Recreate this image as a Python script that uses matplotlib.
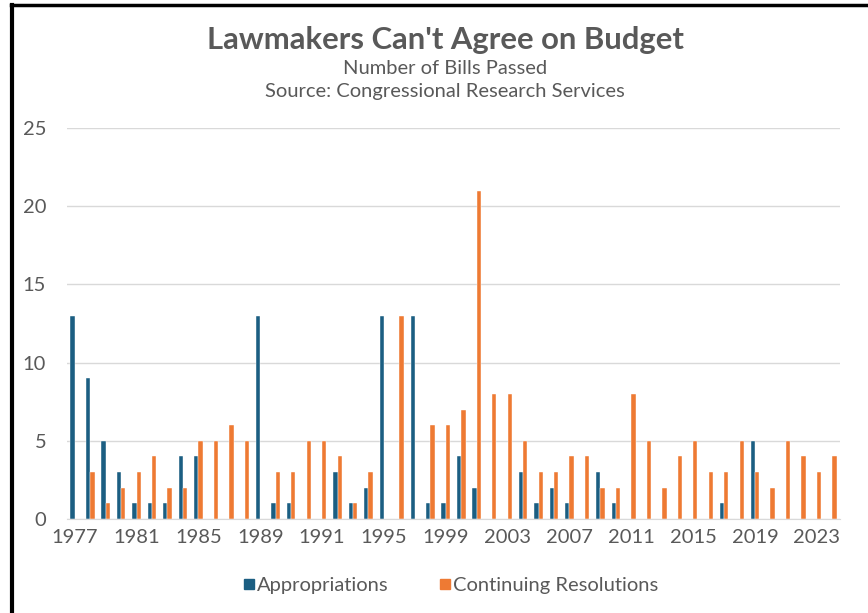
import matplotlib.pyplot as plt
from matplotlib.lines import Line2D
import numpy as np

plt.rcParams["font.family"] = ["Lato", "DejaVu Sans"]

# category labels as they sit on the axis (three unlabeled slots between 1989 and 1991)
years = [str(y) for y in range(1977, 1990)] + ["1990", "1990", "1990"] + [str(y) for y in range(1991, 2025)]

appropriations = [13, 9, 5, 3, 1, 1, 1, 4, 4, 0, 0, 0, 13, 1, 1, 0, 0, 3, 1, 2,
                  13, 0, 13, 1, 1, 4, 2, 0, 0, 3, 1, 2, 1, 0, 3, 1, 0, 0, 0, 0,
                  0, 0, 1, 0, 5, 0, 0, 0, 0, 0]
continuing_res = [0, 3, 1, 2, 3, 4, 2, 2, 5, 5, 6, 5, 0, 3, 3, 5, 5, 4, 1, 3,
                  0, 13, 0, 6, 6, 7, 21, 8, 8, 5, 3, 3, 4, 4, 2, 2, 8, 5, 2, 4,
                  5, 3, 3, 5, 3, 2, 5, 4, 3, 4]

blue = "#1b5e82"
orange = "#ee7a33"
grey = "#595959"

W, H = 868, 613
fig = plt.figure(figsize=(W / 100, H / 100), dpi=100)
ax = fig.add_axes([67 / W, 1 - 519 / H, 773 / W, 391 / H])

x = np.arange(len(years))
w = 0.28
ax.bar(x - w / 2, appropriations, w, color=blue, edgecolor="white", linewidth=0.3)
ax.bar(x + w / 2, continuing_res, w, color=orange, edgecolor="white", linewidth=0.3)

ax.set_xlim(-0.5, len(years) - 0.5)
ax.set_ylim(0, 25)
ax.set_yticks([0, 5, 10, 15, 20, 25])
ax.set_xticks(x[::4])
ax.set_xticklabels(years[::4])
ax.grid(axis="y", color="#d9d9d9", linewidth=1)
ax.set_axisbelow(True)
for s in ["top", "right", "left"]:
    ax.spines[s].set_visible(False)
ax.spines["bottom"].set_color("#d9d9d9")
ax.tick_params(length=0, labelsize=14.5, colors=grey)
ax.tick_params(axis="y", pad=15)
ax.tick_params(axis="x", pad=7)

cx = 445 / W
fig.text(cx, 1 - 40 / H, "Lawmakers Can't Agree on Budget", ha="center", va="center",
         fontsize=22.3, fontweight="bold", color=grey)
fig.text(cx, 1 - 69 / H, "Number of Bills Passed", ha="center", va="center", fontsize=14.5, color=grey)
fig.text(cx, 1 - 92 / H, "Source: Congressional Research Services", ha="center", va="center",
         fontsize=14.5, color=grey)

handles = [Line2D([], [], marker="s", linestyle="", color=blue, markersize=7),
           Line2D([], [], marker="s", linestyle="", color=orange, markersize=7)]
fig.legend(handles, ["Appropriations", "Continuing Resolutions"], loc="center",
           bbox_to_anchor=(449 / W, 1 - 585 / H), ncol=2, frameon=False, fontsize=14.5,
           handletextpad=-0.1, columnspacing=2.3, labelcolor=grey, handlelength=1.0)

# outer border (left and top only)
fig.add_artist(Line2D([12 / W, 12 / W], [0, 1 - 5 / H], color="black", linewidth=3))
fig.add_artist(Line2D([10.5 / W, 1], [1 - 5 / H, 1 - 5 / H], color="black", linewidth=2.5))

fig.savefig("out.png", dpi=100)
